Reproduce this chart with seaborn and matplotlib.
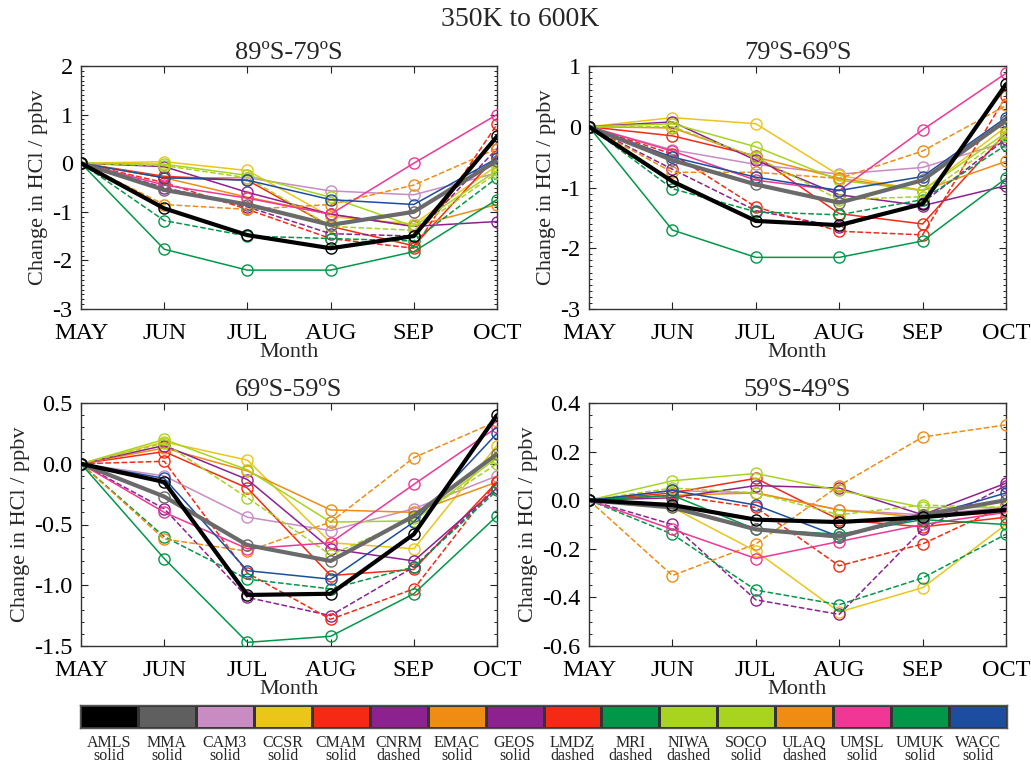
import numpy as np
import pandas as pd
import matplotlib
matplotlib.use("Agg")
import matplotlib.pyplot as plt
from matplotlib.ticker import MultipleLocator
from matplotlib.colors import ListedColormap
import seaborn as sns

months = ["MAY", "JUN", "JUL", "AUG", "SEP", "OCT"]
models = ["AMLS", "MMA", "CAM3", "CCSR", "CMAM", "CNRM", "EMAC", "GEOS",
          "LMDZ", "MRI", "NIWA", "SOCO", "ULAQ", "UMSL", "UMUK", "WACC"]
styles = ["solid", "solid", "solid", "solid", "solid", "dashed", "solid", "solid",
          "dashed", "dashed", "dashed", "solid", "dashed", "solid", "solid", "solid"]
colors = ["#000000", "#5f5f5f", "#c88cc3", "#ecc51a", "#f52a14", "#8e2190",
          "#f08c14", "#8e2190", "#f52a14", "#009848", "#a8d420", "#a8d420",
          "#f08c14", "#f03796", "#009848", "#1c4da0"]

titles = ["89ºS-79ºS", "79ºS-69ºS", "69ºS-59ºS", "59ºS-49ºS"]

panel1 = {
    "AMLS": [0, -0.93, -1.48, -1.75, -1.50, 0.55],
    "MMA":  [0, -0.55, -0.85, -1.27, -1.00, 0.05],
    "CAM3": [0, -0.30, -0.30, -0.57, -0.65, -0.20],
    "CCSR": [0, 0.03, -0.15, -1.10, -1.25, -0.05],
    "CMAM": [0, -0.27, -0.35, -1.30, -1.70, 0.15],
    "CNRM": [0, -0.50, -0.90, -1.45, -1.50, 0.30],
    "EMAC": [0, -0.30, -0.70, -1.05, -1.30, -0.85],
    "GEOS": [0, -0.07, -0.60, -1.05, -1.30, -1.20],
    "LMDZ": [0, -0.40, -0.95, -1.55, -1.75, 0.80],
    "MRI":  [0, -1.18, -1.50, -1.55, -1.60, -0.30],
    "NIWA": [0, -0.05, -0.30, -1.30, -1.38, -0.20],
    "SOCO": [0, -0.02, -0.25, -0.70, -1.30, -0.15],
    "ULAQ": [0, -0.85, -0.95, -0.85, -0.45, 0.30],
    "UMSL": [0, -0.45, -0.72, -1.05, 0.00, 1.00],
    "UMUK": [0, -1.77, -2.20, -2.20, -1.82, -0.75],
    "WACC": [0, -0.30, -0.35, -0.75, -0.85, 0.10],
}
panel2 = {
    "AMLS": [0, -0.90, -1.55, -1.62, -1.27, 0.70],
    "MMA":  [0, -0.55, -0.95, -1.25, -0.88, 0.10],
    "CAM3": [0, -0.38, -0.62, -0.78, -0.67, -0.25],
    "CCSR": [0, 0.15, 0.05, -0.80, -1.05, 0.00],
    "CMAM": [0, -0.15, -0.48, -1.43, -1.60, -0.10],
    "CNRM": [0, -0.70, -1.38, -1.65, -1.25, -0.20],
    "EMAC": [0, -0.02, -0.50, -0.85, -1.05, -0.57],
    "GEOS": [0, 0.08, -0.55, -1.12, -1.30, -0.97],
    "LMDZ": [0, -0.45, -1.32, -1.72, -1.78, 0.50],
    "MRI":  [0, -1.02, -1.40, -1.45, -1.20, -0.30],
    "NIWA": [0, 0.00, -0.50, -1.20, -1.15, -0.15],
    "SOCO": [0, 0.05, -0.33, -0.88, -1.05, -0.10],
    "ULAQ": [0, -0.75, -0.75, -0.85, -0.40, 0.35],
    "UMSL": [0, -0.40, -0.88, -1.05, -0.05, 0.88],
    "UMUK": [0, -1.70, -2.15, -2.15, -1.88, -0.85],
    "WACC": [0, -0.50, -0.83, -1.05, -0.82, 0.15],
}
panel3 = {
    "AMLS": [0, -0.15, -1.08, -1.07, -0.58, 0.40],
    "MMA":  [0, -0.27, -0.67, -0.80, -0.43, 0.08],
    "CAM3": [0, -0.10, -0.44, -0.55, -0.37, -0.10],
    "CCSR": [0, 0.18, 0.03, -0.65, -0.70, 0.15],
    "CMAM": [0, 0.10, -0.20, -0.92, -0.87, -0.15],
    "CNRM": [0, -0.37, -1.10, -1.25, -0.85, -0.20],
    "EMAC": [0, 0.13, -0.06, -0.38, -0.40, -0.15],
    "GEOS": [0, 0.15, -0.13, -0.70, -0.80, -0.20],
    "LMDZ": [0, 0.02, -0.90, -1.28, -1.03, -0.15],
    "MRI":  [0, -0.60, -0.95, -1.03, -0.85, -0.22],
    "NIWA": [0, 0.17, -0.28, -0.75, -0.45, 0.00],
    "SOCO": [0, 0.20, -0.05, -0.48, -0.47, 0.05],
    "ULAQ": [0, -0.62, -0.72, -0.48, 0.05, 0.35],
    "UMSL": [0, -0.40, -0.70, -0.65, -0.17, 0.30],
    "UMUK": [0, -0.78, -1.47, -1.42, -1.07, -0.43],
    "WACC": [0, -0.12, -0.88, -0.95, -0.48, 0.25],
}
panel4 = {
    "AMLS": [0, -0.02, -0.08, -0.09, -0.07, -0.04],
    "MMA":  [0, -0.03, -0.12, -0.15, -0.06, 0.00],
    "CAM3": [0, 0.04, 0.03, -0.04, -0.06, -0.03],
    "CCSR": [0, -0.03, -0.21, -0.46, -0.36, -0.10],
    "CMAM": [0, 0.03, 0.09, -0.08, -0.11, -0.07],
    "CNRM": [0, -0.10, -0.41, -0.47, -0.12, 0.06],
    "EMAC": [0, 0.02, 0.03, -0.04, -0.07, -0.05],
    "GEOS": [0, 0.01, 0.06, 0.05, -0.06, 0.07],
    "LMDZ": [0, 0.02, -0.03, -0.27, -0.18, -0.02],
    "MRI":  [0, -0.14, -0.37, -0.43, -0.32, -0.14],
    "NIWA": [0, 0.05, 0.03, -0.06, -0.02, -0.03],
    "SOCO": [0, 0.08, 0.11, 0.04, -0.03, -0.03],
    "ULAQ": [0, -0.31, -0.18, 0.06, 0.26, 0.31],
    "UMSL": [0, -0.12, -0.24, -0.17, -0.10, -0.05],
    "UMUK": [0, 0.02, -0.12, -0.14, -0.08, -0.10],
    "WACC": [0, 0.04, -0.02, -0.15, -0.07, 0.03],
}
panels = [panel1, panel2, panel3, panel4]
ylims = [(-3, 2), (-3, 1), (-1.5, 0.5), (-0.6, 0.4)]
ymajor = [1, 1, 0.5, 0.2]
yminor = [0.1, 0.1, 0.1, 0.05]
yfmt = ["{:.0f}", "{:.0f}", "{:.1f}", "{:.1f}"]

sns.set_style("ticks")
plt.rcParams["font.family"] = ["Liberation Serif", "DejaVu Serif"]
plt.rcParams["axes.unicode_minus"] = False

fig = plt.figure(figsize=(10.31, 7.63), dpi=100)
W, H = 1031, 763
boxes = [(81, 66, 497, 309), (589, 66, 1006, 309),
         (81, 403, 497, 646), (589, 403, 1006, 646)]
x = np.arange(len(months))

for i, (l, t, r, b) in enumerate(boxes):
    ax = fig.add_axes([l / W, 1 - b / H, (r - l) / W, (b - t) / H])
    data = panels[i]
    order = list(range(2, len(models))) + [1, 0]
    for k in order:
        m = models[k]
        thick = k < 2
        c = colors[k] if k != 1 else "#6a6a6a"
        sns.lineplot(x=x, y=data[m], ax=ax, color=c,
                     linestyle="--" if styles[k] == "dashed" else "-",
                     dashes=(6, 4) if styles[k] == "dashed" else (None, None),
                     linewidth=3.0 if thick else 1.1,
                     marker="o", markersize=8, markerfacecolor="none",
                     markeredgecolor=c,
                     markeredgewidth=1.0, legend=False, zorder=3 + (k < 2))
    ax.set_xlim(0, 5)
    ax.set_ylim(*ylims[i])
    ax.set_xticks(x)
    ax.set_xticklabels(months, fontsize=17.5)
    ax.yaxis.set_minor_locator(MultipleLocator(yminor[i]))
    ticks = np.arange(ylims[i][0], ylims[i][1] + 1e-9, ymajor[i])
    ax.set_yticks(ticks)
    ax.set_yticklabels([yfmt[i].format(v + 0.0) for v in ticks], fontsize=17.5)
    ax.tick_params(axis="both", which="major", direction="in", length=5,
                   width=0.8, top=True, right=True, pad=6, colors="#222222",
                   labelcolor="black")
    ax.tick_params(axis="x", which="major", pad=10)
    ax.tick_params(axis="y", which="minor", direction="in", length=2.5,
                   width=0.7, left=True, right=True, colors="#222222")
    for sp in ax.spines.values():
        sp.set_color("#333333")
        sp.set_linewidth(1.0)
    ax.set_xlabel("Month", fontsize=16, labelpad=-1)
    ax.set_ylabel("Change in HCl / ppbv", fontsize=16, labelpad=3)
    ax.set_title(titles[i], fontsize=19, pad=5)

fig.text(520 / W, 1 - 19 / H, "350K to 600K", ha="center", va="center", fontsize=20)

# colour-bar style legend
lax = fig.add_axes([80 / W, 1 - 728 / H, 927 / W, 23 / H])
cells = pd.DataFrame([list(range(len(models)))], columns=models)
sns.heatmap(cells, ax=lax, cmap=ListedColormap(colors), cbar=False,
            linewidths=1.0, linecolor="#333333", vmin=-0.5, vmax=len(models) - 0.5)
lax.set_yticks([])
lax.set_xticks(np.arange(len(models)) + 0.5)
lax.set_xticklabels([f"{m}\n{s}" for m, s in zip(models, styles)],
                    fontsize=11.5, rotation=0, linespacing=0.78)
lax.tick_params(axis="x", length=0, pad=5)
lax.set_xlabel("")
lax.set_ylabel("")
for sp in lax.spines.values():
    sp.set_visible(True)
    sp.set_color("#555555")
    sp.set_linewidth(1.0)

fig.savefig("out.png", dpi=100)
